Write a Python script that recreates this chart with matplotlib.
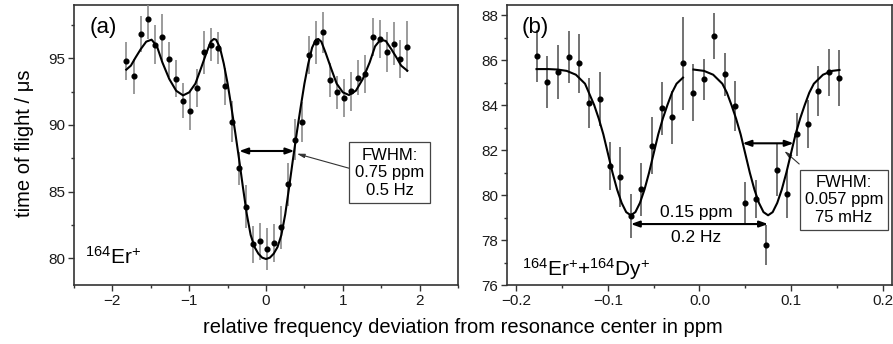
import matplotlib
matplotlib.use('Agg')
import matplotlib.pyplot as plt
from matplotlib.ticker import MultipleLocator

plt.rcParams['font.family'] = ['Liberation Sans', 'DejaVu Sans']
plt.rcParams['mathtext.default'] = 'regular'

# (a) 164Er+ : measured points
xa = [-1.82, -1.72, -1.63, -1.54, -1.45, -1.36, -1.26, -1.17, -1.08, -0.99,
      -0.90, -0.81, -0.72, -0.63, -0.53, -0.44, -0.35, -0.26, -0.17, -0.075,
      0.017, 0.11, 0.20, 0.29, 0.38, 0.47, 0.565, 0.656, 0.747, 0.838,
      0.93, 1.02, 1.11, 1.20, 1.29, 1.39, 1.48, 1.57, 1.66, 1.75, 1.84]
ya = [94.78, 93.65, 96.80, 97.95, 96.02, 96.60, 94.93, 93.47, 91.82, 91.07,
      92.78, 95.45, 96.02, 95.80, 92.90, 90.25, 86.75, 83.87, 81.05, 81.28,
      80.70, 81.15, 82.33, 85.55, 88.90, 90.25, 95.25, 96.20, 96.95, 93.38,
      92.45, 92.03, 92.53, 93.55, 93.83, 96.60, 96.45, 95.50, 96.10, 94.95, 95.87]
ea = [1.43, 1.30, 1.35, 1.50, 1.45, 1.75, 1.30, 1.40, 1.30, 1.45,
      1.45, 1.60, 1.25, 1.20, 1.40, 1.55, 1.25, 1.60, 1.40, 1.40,
      1.60, 1.45, 1.60, 1.60, 1.55, 1.50, 1.40, 1.60, 1.55, 1.25,
      1.25, 1.45, 1.45, 1.30, 1.45, 1.40, 1.40, 1.50, 1.60, 1.45, 1.90]

# (a) fit curve
fit_ax = [-1.82, -1.76, -1.70, -1.63, -1.56, -1.49, -1.42, -1.35, -1.26, -1.17,
          -1.08, -1.00, -0.92, -0.85, -0.78, -0.72, -0.68, -0.65, -0.60, -0.55,
          -0.50, -0.45, -0.40, -0.35, -0.30, -0.25, -0.20, -0.15, -0.10, -0.05,
          0.00, 0.05, 0.10, 0.15, 0.20, 0.25, 0.30, 0.35, 0.40, 0.45,
          0.50, 0.55, 0.60, 0.65, 0.68, 0.72, 0.78, 0.85, 0.92, 1.00,
          1.08, 1.17, 1.26, 1.35, 1.42, 1.49, 1.56, 1.63, 1.70, 1.76, 1.84]
fit_ay = [94.15, 94.45, 95.05, 95.70, 96.25, 96.40, 95.90, 94.70, 93.45, 92.57,
          92.22, 92.45, 93.10, 94.20, 95.35, 96.25, 96.45, 96.40, 95.80, 94.60,
          93.10, 91.30, 89.40, 87.40, 85.30, 83.30, 81.75, 80.85, 80.35, 80.05,
          79.95, 80.05, 80.35, 80.85, 81.75, 83.30, 85.30, 87.40, 89.40, 91.30,
          93.10, 94.60, 95.80, 96.40, 96.45, 96.25, 95.35, 94.20, 93.10, 92.45,
          92.25, 92.57, 93.45, 94.70, 95.90, 96.40, 96.30, 95.70, 95.05, 94.45, 94.07]

# (b) 164Er+ + 164Dy+ : measured points
xb = [-0.178, -0.1665, -0.155, -0.143, -0.132, -0.121, -0.109, -0.098, -0.0865, -0.075,
      -0.064, -0.052, -0.041, -0.030, -0.018, -0.007, 0.0047, 0.016, 0.0276, 0.039,
      0.050, 0.062, 0.073, 0.085, 0.096, 0.107, 0.119, 0.130, 0.142, 0.153]
yb = [86.18, 85.02, 85.48, 86.15, 85.85, 84.08, 84.27, 81.30, 80.81, 79.07,
      80.25, 82.19, 83.85, 83.45, 85.85, 84.55, 85.14, 87.07, 85.36, 83.97,
      79.66, 79.82, 77.76, 81.11, 80.04, 82.70, 83.17, 84.62, 85.45, 85.21]
eb = [1.15, 1.15, 1.19, 1.15, 1.33, 1.11, 1.19, 1.07, 1.33, 0.96,
      1.19, 1.26, 1.19, 1.19, 2.05, 1.26, 0.93, 1.04, 0.96, 1.11,
      0.93, 0.85, 0.89, 1.15, 1.04, 0.96, 1.07, 1.11, 1.04, 1.26]

# (b) fit curves (two dips)
fit_b1x = [-0.178, -0.165, -0.155, -0.145, -0.135, -0.125, -0.115, -0.110, -0.105, -0.100,
           -0.095, -0.090, -0.085, -0.080, -0.075, -0.070, -0.065, -0.060, -0.055, -0.050,
           -0.045, -0.040, -0.035, -0.030, -0.025, -0.018]
fit_b1y = [85.60, 85.60, 85.58, 85.52, 85.35, 84.95, 84.00, 83.40, 82.70, 81.85,
           81.00, 80.25, 79.65, 79.24, 79.10, 79.24, 79.65, 80.25, 81.00, 81.85,
           82.70, 83.40, 84.00, 84.55, 84.95, 85.22]
fit_b2x = [-0.0065, 0.005, 0.015, 0.025, 0.030, 0.035, 0.040, 0.045, 0.050, 0.055,
           0.060, 0.065, 0.070, 0.075, 0.080, 0.085, 0.090, 0.095, 0.100, 0.105,
           0.110, 0.115, 0.120, 0.125, 0.135, 0.145, 0.153]
fit_b2y = [85.58, 85.52, 85.35, 84.95, 84.55, 84.00, 83.40, 82.70, 81.85, 81.00,
           80.25, 79.65, 79.24, 79.10, 79.24, 79.65, 80.25, 81.00, 81.85, 82.70,
           83.40, 84.00, 84.55, 84.95, 85.35, 85.52, 85.56]

fig = plt.figure(figsize=(8.93, 3.44), dpi=100)
ax1 = fig.add_axes([0.0829, 0.1715, 0.430, 0.814])
ax2 = fig.add_axes([0.568, 0.1715, 0.4305, 0.814])

for ax in (ax1, ax2):
    for s in ax.spines.values():
        s.set_color('#333333')
        s.set_linewidth(1.2)
    ax.tick_params(which='both', direction='out', top=False, right=False,
                   labelsize=11, colors='#333333', labelcolor='#1a1a1a', width=1.0)
    ax.tick_params(which='major', length=4, pad=2.5)
    ax.tick_params(which='minor', length=2.5)

# panel (a)
ax1.errorbar(xa, ya, yerr=ea, fmt='o', ms=3.4, color='black',
             ecolor='#8a8a8a', elinewidth=1.2, capsize=0, zorder=3)
ax1.plot(fit_ax, fit_ay, color='black', lw=1.5, zorder=4)
ax1.set_xlim(-2.5, 2.5)
ax1.set_ylim(78, 99)
ax1.xaxis.set_major_locator(MultipleLocator(1))
ax1.xaxis.set_minor_locator(MultipleLocator(0.5))
ax1.yaxis.set_major_locator(MultipleLocator(5))
ax1.yaxis.set_minor_locator(MultipleLocator(2.5))
ax1.annotate('', xy=(-0.35, 88.05), xytext=(0.37, 88.05),
             arrowprops=dict(arrowstyle='<|-|>,head_length=0.5,head_width=0.18',
                             color='black', lw=1.5, shrinkA=0, shrinkB=0))
ax1.annotate('', xy=(0.40, 87.85), xytext=(1.086, 86.75),
             arrowprops=dict(arrowstyle='-|>,head_length=0.45,head_width=0.12',
                             color='#333333', lw=0.8, shrinkA=0, shrinkB=0))
ax1.text(1.612, 86.42, 'FWHM:\n0.75 ppm\n0.5 Hz', ha='center', va='center',
         fontsize=12, linespacing=1.2,
         bbox=dict(boxstyle='square,pad=0.35', fc='white', ec='#444444', lw=0.9))
ax1.text(0.077, 0.921, '(a)', transform=ax1.transAxes, ha='center', va='center', fontsize=16)
ax1.text(-2.36, 79.6, r'$^{164}$Er$^{+}$', fontsize=15, va='baseline')

# panel (b)
ax2.errorbar(xb, yb, yerr=eb, fmt='o', ms=3.4, color='black',
             ecolor='#5a5a5a', elinewidth=1.2, capsize=0, zorder=3)
ax2.plot(fit_b1x, fit_b1y, color='black', lw=1.5, zorder=4)
ax2.plot(fit_b2x, fit_b2y, color='black', lw=1.5, zorder=4)
ax2.set_xlim(-0.21, 0.21)
ax2.set_ylim(76, 88.45)
ax2.xaxis.set_major_locator(MultipleLocator(0.1))
ax2.xaxis.set_minor_locator(MultipleLocator(0.05))
ax2.yaxis.set_major_locator(MultipleLocator(2))
ax2.yaxis.set_minor_locator(MultipleLocator(1))
ax2.annotate('', xy=(0.047, 82.3), xytext=(0.103, 82.3),
             arrowprops=dict(arrowstyle='<|-|>,head_length=0.5,head_width=0.18',
                             color='black', lw=1.5, shrinkA=0, shrinkB=0))
ax2.annotate('', xy=(0.0927, 81.96), xytext=(0.109, 81.38),
             arrowprops=dict(arrowstyle='-|>,head_length=0.45,head_width=0.12',
                             color='#333333', lw=0.8, shrinkA=0, shrinkB=0))
ax2.text(0.1578, 79.78, 'FWHM:\n0.057 ppm\n75 mHz', ha='center', va='center',
         fontsize=12, linespacing=1.2,
         bbox=dict(boxstyle='square,pad=0.3', fc='white', ec='#444444', lw=0.9))
ax2.annotate('', xy=(-0.075, 78.71), xytext=(0.075, 78.71),
             arrowprops=dict(arrowstyle='<|-|>,head_length=0.5,head_width=0.18',
                             color='black', lw=1.5, shrinkA=0, shrinkB=0))
ax2.text(-0.003, 79.23, '0.15 ppm', ha='center', va='center', fontsize=12.5)
ax2.text(-0.004, 78.12, '0.2 Hz', ha='center', va='center', fontsize=12.5)
ax2.text(0.072, 0.921, '(b)', transform=ax2.transAxes, ha='center', va='center', fontsize=16)
ax2.text(-0.1935, 76.4, r'$^{164}$Er$^{+}$+$^{164}$Dy$^{+}$', fontsize=15, va='baseline')

fig.text(24.5 / 893, 1 - 143 / 344, 'time of flight / \u03bcs', rotation=90,
         ha='center', va='center', fontsize=14.5)
fig.text(203 / 893, 1 - 333 / 344, 'relative frequency deviation from resonance center in ppm',
         ha='left', va='baseline', fontsize=14.5)

fig.savefig('out.png', dpi=100)
